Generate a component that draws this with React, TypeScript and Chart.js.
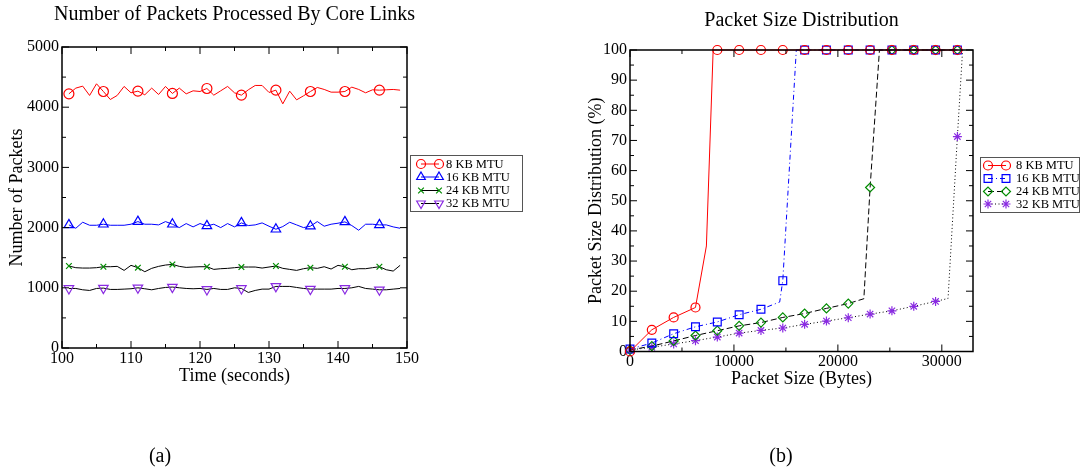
import React, { useEffect, useRef } from 'react';
import { Chart, registerables } from 'chart.js';
import { drawPoint } from 'chart.js/helpers';

Chart.register(...registerables);

const FONT = '"Liberation Serif", "Times New Roman", serif';

// ---------- (a) Number of packets processed by core links ----------
const timeSeconds = [
  101, 102, 103, 104, 105, 106, 107, 108, 109, 110,
  111, 112, 113, 114, 115, 116, 117, 118, 119, 120,
  121, 122, 123, 124, 125, 126, 127, 128, 129, 130,
  131, 132, 133, 134, 135, 136, 137, 138, 139, 140,
  141, 142, 143, 144, 145, 146, 147, 148, 149,
];
const packets8KB = [
  4222, 4317, 4350, 4195, 4389, 4261, 4128, 4195, 4345, 4239,
  4267, 4206, 4317, 4211, 4345, 4228, 4317, 4222, 4272, 4261,
  4311, 4200, 4272, 4345, 4239, 4200, 4289, 4361, 4361, 4245,
  4283, 4056, 4267, 4122, 4189, 4261, 4328, 4295, 4250, 4250,
  4261, 4333, 4295, 4239, 4289, 4283, 4289, 4295, 4283,
];
const packets16KB = [
  2045, 1989, 2089, 2039, 2039, 2056, 2039, 2039, 2039, 2056,
  2100, 2056, 2056, 2045, 2100, 2056, 2000, 2067, 2012, 2067,
  2028, 2056, 2000, 2067, 2012, 2078, 2034, 2045, 2078, 2023,
  1973, 2017, 2089, 2045, 2000, 2023, 2100, 2023, 2056, 2073,
  2095, 2034, 1956, 2056, 2056, 2045, 2045, 2012, 1989,
];
const packets24KB = [
  1362, 1334, 1328, 1328, 1334, 1350, 1350, 1356, 1289, 1373,
  1334, 1267, 1323, 1356, 1378, 1389, 1356, 1339, 1345, 1350,
  1350, 1306, 1317, 1323, 1334, 1345, 1345, 1345, 1328, 1345,
  1362, 1323, 1306, 1289, 1317, 1334, 1323, 1350, 1312, 1373,
  1350, 1300, 1317, 1317, 1334, 1350, 1300, 1278, 1373,
];
const packets32KB = [
  989, 989, 967, 956, 989, 995, 973, 973, 978, 984,
  1000, 984, 967, 989, 1006, 1012, 1000, 989, 984, 989,
  973, 989, 973, 973, 1000, 989, 923, 956, 978, 978,
  1023, 1023, 1023, 1006, 989, 978, 978, 978, 978, 989,
  989, 1000, 1023, 989, 978, 967, 967, 978, 989,
];

// ---------- (b) Packet size distribution ----------
const sizes8KB = [0, 2100, 4200, 6300, 7350, 8000, 8400, 10500, 12600, 14700, 16800, 18900, 21000, 23100, 25200, 27300, 29400, 31500];
const cdf8KB = [0, 7.2, 11.3, 14.6, 35.0, 100, 100, 100, 100, 100, 100, 100, 100, 100, 100, 100, 100, 100];
const sizes16KB = [0, 2100, 4200, 6300, 8400, 10500, 12600, 14400, 14700, 16000, 16800, 18900, 21000, 23100, 25200, 27300, 29400, 31500];
const cdf16KB = [0.8, 2.8, 5.9, 8.2, 9.8, 12.2, 14.0, 16.4, 23.5, 100, 100, 100, 100, 100, 100, 100, 100, 100];
const sizes24KB = [0, 2100, 4200, 6300, 8400, 10500, 12600, 14700, 16800, 18900, 21000, 22500, 23100, 24000, 25200, 27300, 29400, 31500];
const cdf24KB = [0.5, 1.8, 3.5, 5.3, 6.9, 8.5, 9.6, 11.3, 12.6, 14.3, 15.9, 17.5, 54.4, 100, 100, 100, 100, 100];
const sizes32KB = [0, 2100, 4200, 6300, 8400, 10500, 12600, 14700, 16800, 18900, 21000, 23100, 25200, 27300, 29400, 30600, 31500, 32000];
const cdf32KB = [0.5, 1.4, 2.5, 3.6, 4.8, 6.1, 7.0, 7.8, 9.0, 10.1, 11.2, 12.4, 13.5, 15.0, 16.6, 17.6, 71.3, 100];

const packetSizeTicks = [0, 10000, 20000, 30000];

const seriesLabels = ['8 KB MTU', '16 KB MTU', '24 KB MTU', '32 KB MTU'];

const RED = '#ff0000';
const BLUE = '#0000ff';
const GREEN = '#008c00';
const PURPLE = '#8a2be2';

const leftMarked = (x: number) => (x - 101) % 5 === 0;
const rightMarked = (x: number) => x % 2100 === 0;

const toXY = (xs: number[], ys: number[]) => xs.map((x, i) => ({ x, y: ys[i] }));

type LegendItem = {
  label: string;
  lineColor: string;
  dash: number[];
  markerColor: string;
  pointStyle: string;
  radius: number;
  rotation: number;
};

function drawText(ctx: CanvasRenderingContext2D, s: string, x: number, y: number, size: number, rotate = 0, align: CanvasTextAlign = 'center') {
  ctx.save();
  ctx.font = `${size}px ${FONT}`;
  ctx.fillStyle = '#000';
  ctx.textAlign = align;
  ctx.textBaseline = 'middle';
  ctx.translate(x, y);
  if (rotate) ctx.rotate(rotate);
  ctx.fillText(s, 0, 0);
  ctx.restore();
}

function drawFrameAndTicks(chart: any, xMinor: number, xMajor: number, yMinor: number, yMajor: number) {
  const { ctx, chartArea: a, scales } = chart;
  const xs = scales.x;
  const ys = scales.y;
  ctx.save();
  ctx.strokeStyle = '#000';
  ctx.lineWidth = 1;
  ctx.setLineDash([]);
  const MAJ = 7;
  const MIN = 4;
  for (let i = 0; ; i++) {
    const v = xs.min + i * xMinor;
    if (v > xs.max + 1e-6) break;
    const len = Math.abs(v % xMajor) < 1e-6 ? MAJ : MIN;
    const px = xs.getPixelForValue(v);
    ctx.beginPath();
    ctx.moveTo(px, a.bottom);
    ctx.lineTo(px, a.bottom - len);
    ctx.moveTo(px, a.top);
    ctx.lineTo(px, a.top + len);
    ctx.stroke();
  }
  for (let i = 0; ; i++) {
    const v = ys.min + i * yMinor;
    if (v > ys.max + 1e-6) break;
    const len = Math.abs(v % yMajor) < 1e-6 ? MAJ : MIN;
    const py = ys.getPixelForValue(v);
    ctx.beginPath();
    ctx.moveTo(a.left, py);
    ctx.lineTo(a.left + len, py);
    ctx.moveTo(a.right, py);
    ctx.lineTo(a.right - len, py);
    ctx.stroke();
  }
  ctx.lineWidth = 1.5;
  ctx.strokeRect(a.left, a.top, a.right - a.left, a.bottom - a.top);
  ctx.restore();
}

function drawLegend(
  ctx: CanvasRenderingContext2D,
  box: { x: number; y: number; w: number; h: number },
  items: LegendItem[],
  x0: number,
  x1: number,
  textX: number,
  rows: number[],
) {
  ctx.save();
  ctx.fillStyle = '#fff';
  ctx.fillRect(box.x, box.y, box.w, box.h);
  ctx.strokeStyle = '#555';
  ctx.lineWidth = 1;
  ctx.setLineDash([]);
  ctx.strokeRect(box.x + 0.5, box.y + 0.5, box.w, box.h);
  items.forEach((it, i) => {
    const y = rows[i];
    ctx.strokeStyle = it.lineColor;
    ctx.lineWidth = 1;
    ctx.setLineDash(it.dash);
    ctx.beginPath();
    ctx.moveTo(x0, y);
    ctx.lineTo(x1, y);
    ctx.stroke();
    ctx.setLineDash([]);
    ctx.strokeStyle = it.markerColor;
    ctx.fillStyle = 'rgba(0,0,0,0)';
    ctx.lineWidth = 1.2;
    const opts: any = { pointStyle: it.pointStyle, radius: it.radius, rotation: it.rotation, borderWidth: 1.2 };
    drawPoint(ctx, opts, x0, y);
    drawPoint(ctx, opts, x1, y);
    drawText(ctx, it.label, textX, y + 0.5, 12.5, 0, 'left');
  });
  ctx.restore();
}

const plainLabel = (v: any) => String(v);

function leftConfig(): any {
  const mk = (label: string, ys: number[], line: string, marker: string, style: string, radius: number, rotation = 0) => ({
    label,
    data: toXY(timeSeconds, ys),
    borderColor: line,
    borderWidth: 1,
    tension: 0,
    clip: false,
    pointStyle: style,
    pointRotation: rotation,
    pointRadius: (c: any) => (c.raw && leftMarked(c.raw.x) ? radius : 0),
    pointBorderColor: marker,
    pointBackgroundColor: 'rgba(0,0,0,0)',
    pointBorderWidth: 1.2,
  });
  const legendItems: LegendItem[] = [
    { label: seriesLabels[0], lineColor: RED, dash: [], markerColor: RED, pointStyle: 'circle', radius: 4.5, rotation: 0 },
    { label: seriesLabels[1], lineColor: BLUE, dash: [], markerColor: BLUE, pointStyle: 'triangle', radius: 5, rotation: 0 },
    { label: seriesLabels[2], lineColor: '#000', dash: [], markerColor: GREEN, pointStyle: 'crossRot', radius: 4, rotation: 0 },
    { label: seriesLabels[3], lineColor: '#000', dash: [], markerColor: PURPLE, pointStyle: 'triangle', radius: 5, rotation: 180 },
  ];
  return {
    type: 'line',
    data: {
      datasets: [
        mk(seriesLabels[0], packets8KB, RED, RED, 'circle', 5),
        mk(seriesLabels[1], packets16KB, BLUE, BLUE, 'triangle', 5.5),
        mk(seriesLabels[2], packets24KB, '#000', GREEN, 'crossRot', 4),
        mk(seriesLabels[3], packets32KB, '#000', PURPLE, 'triangle', 5.5, 180),
      ],
    },
    options: {
      responsive: false,
      animation: false,
      devicePixelRatio: 1,
      layout: { padding: { left: 0, top: 47, right: 133, bottom: 0 } },
      plugins: { legend: { display: false }, title: { display: false }, tooltip: { enabled: false } },
      scales: {
        x: {
          type: 'linear',
          min: 100,
          max: 150,
          afterFit: (s: any) => { s.height = 123; },
          grid: { display: false, drawTicks: false },
          border: { display: false },
          ticks: { stepSize: 10, autoSkip: false, maxRotation: 0, padding: 1, color: '#000', font: { family: FONT, size: 16 }, callback: plainLabel },
        },
        y: {
          type: 'linear',
          min: 0,
          max: 5000,
          afterFit: (s: any) => { s.width = 62; },
          grid: { display: false, drawTicks: false },
          border: { display: false },
          ticks: { stepSize: 1000, autoSkip: false, padding: 3, color: '#000', font: { family: FONT, size: 16 }, callback: plainLabel },
        },
      },
    },
    plugins: [
      {
        id: 'decorLeft',
        afterDraw(chart: any) {
          const ctx = chart.ctx;
          const a = chart.chartArea;
          drawFrameAndTicks(chart, 5, 10, 500, 1000);
          drawText(ctx, 'Number of Packets Processed By Core Links', (a.left + a.right) / 2, 15, 20);
          drawText(ctx, 'Time (seconds)', (a.left + a.right) / 2, 376, 18);
          drawText(ctx, 'Number of Packets', 17, (a.top + a.bottom) / 2, 18, -Math.PI / 2);
          drawLegend(ctx, { x: 410, y: 155, w: 112, h: 56 }, legendItems, 421, 439, 446, [164, 177, 190.5, 203.5]);
          drawText(ctx, '(a)', 160, 457, 20);
        },
      },
    ],
  };
}

function rightConfig(): any {
  const mk = (label: string, xs: number[], ys: number[], line: string, dash: number[], marker: string, style: string, radius: number) => ({
    label,
    data: toXY(xs, ys),
    borderColor: line,
    borderWidth: 1,
    borderDash: dash,
    tension: 0,
    clip: false,
    pointStyle: style,
    pointRadius: (c: any) => (c.raw && rightMarked(c.raw.x) ? radius : 0),
    pointBorderColor: marker,
    pointBackgroundColor: 'rgba(0,0,0,0)',
    pointBorderWidth: 1.2,
  });
  const dashDot = [5, 3, 1, 3];
  const dashed = [6, 3];
  const dotted = [1, 2.5];
  const legendItems: LegendItem[] = [
    { label: seriesLabels[0], lineColor: RED, dash: [], markerColor: RED, pointStyle: 'circle', radius: 4.5, rotation: 0 },
    { label: seriesLabels[1], lineColor: BLUE, dash: dashDot, markerColor: BLUE, pointStyle: 'rect', radius: 5.5, rotation: 0 },
    { label: seriesLabels[2], lineColor: '#000', dash: dashed, markerColor: GREEN, pointStyle: 'rectRot', radius: 4.5, rotation: 0 },
    { label: seriesLabels[3], lineColor: '#000', dash: dotted, markerColor: PURPLE, pointStyle: 'star', radius: 4.5, rotation: 0 },
  ];
  return {
    type: 'line',
    data: {
      datasets: [
        mk(seriesLabels[0], sizes8KB, cdf8KB, RED, [], RED, 'circle', 4.5),
        mk(seriesLabels[1], sizes16KB, cdf16KB, BLUE, dashDot, BLUE, 'rect', 5.5),
        mk(seriesLabels[2], sizes24KB, cdf24KB, '#000', dashed, GREEN, 'rectRot', 4.5),
        mk(seriesLabels[3], sizes32KB, cdf32KB, '#000', dotted, PURPLE, 'star', 4.5),
      ],
    },
    options: {
      responsive: false,
      animation: false,
      devicePixelRatio: 1,
      layout: { padding: { left: 0, top: 50, right: 107, bottom: 0 } },
      plugins: { legend: { display: false }, title: { display: false }, tooltip: { enabled: false } },
      scales: {
        x: {
          type: 'linear',
          min: 0,
          max: 33000,
          afterFit: (s: any) => { s.height = 119.5; },
          afterBuildTicks: (s: any) => { s.ticks = packetSizeTicks.map((value) => ({ value })); },
          grid: { display: false, drawTicks: false },
          border: { display: false },
          ticks: { autoSkip: false, maxRotation: 0, padding: 1, color: '#000', font: { family: FONT, size: 16 }, callback: plainLabel },
        },
        y: {
          type: 'linear',
          min: 0,
          max: 100,
          afterFit: (s: any) => { s.width = 90; },
          grid: { display: false, drawTicks: false },
          border: { display: false },
          ticks: { stepSize: 10, autoSkip: false, padding: 3, color: '#000', font: { family: FONT, size: 16 }, callback: plainLabel },
        },
      },
    },
    plugins: [
      {
        id: 'decorRight',
        afterDraw(chart: any) {
          const ctx = chart.ctx;
          const a = chart.chartArea;
          drawFrameAndTicks(chart, 5000, 10000, 5, 10);
          drawText(ctx, 'Packet Size Distribution', (a.left + a.right) / 2, 21, 20);
          drawText(ctx, 'Packet Size (Bytes)', (a.left + a.right) / 2, 379, 18);
          drawText(ctx, 'Packet Size Distribution (%)', 56, (a.top + a.bottom) / 2, 18, -Math.PI / 2);
          drawLegend(ctx, { x: 440, y: 157, w: 99, h: 55 }, legendItems, 448, 466, 476, [165.5, 178.5, 191.5, 204]);
          drawText(ctx, '(b)', 241, 457, 20);
        },
      },
    ],
  };
}

export default function App() {
  const leftRef = useRef<HTMLCanvasElement>(null);
  const rightRef = useRef<HTMLCanvasElement>(null);
  useEffect(() => {
    const c1 = new Chart(leftRef.current as HTMLCanvasElement, leftConfig());
    const c2 = new Chart(rightRef.current as HTMLCanvasElement, rightConfig());
    return () => {
      c1.destroy();
      c2.destroy();
    };
  }, []);
  return (
    <div style={{ position: 'absolute', left: 0, top: 0, width: 1080, height: 471, background: '#fff' }}>
      <canvas ref={leftRef} width={540} height={471} style={{ position: 'absolute', left: 0, top: 0, width: 540, height: 471 }} />
      <canvas ref={rightRef} width={540} height={471} style={{ position: 'absolute', left: 540, top: 0, width: 540, height: 471 }} />
    </div>
  );
}
